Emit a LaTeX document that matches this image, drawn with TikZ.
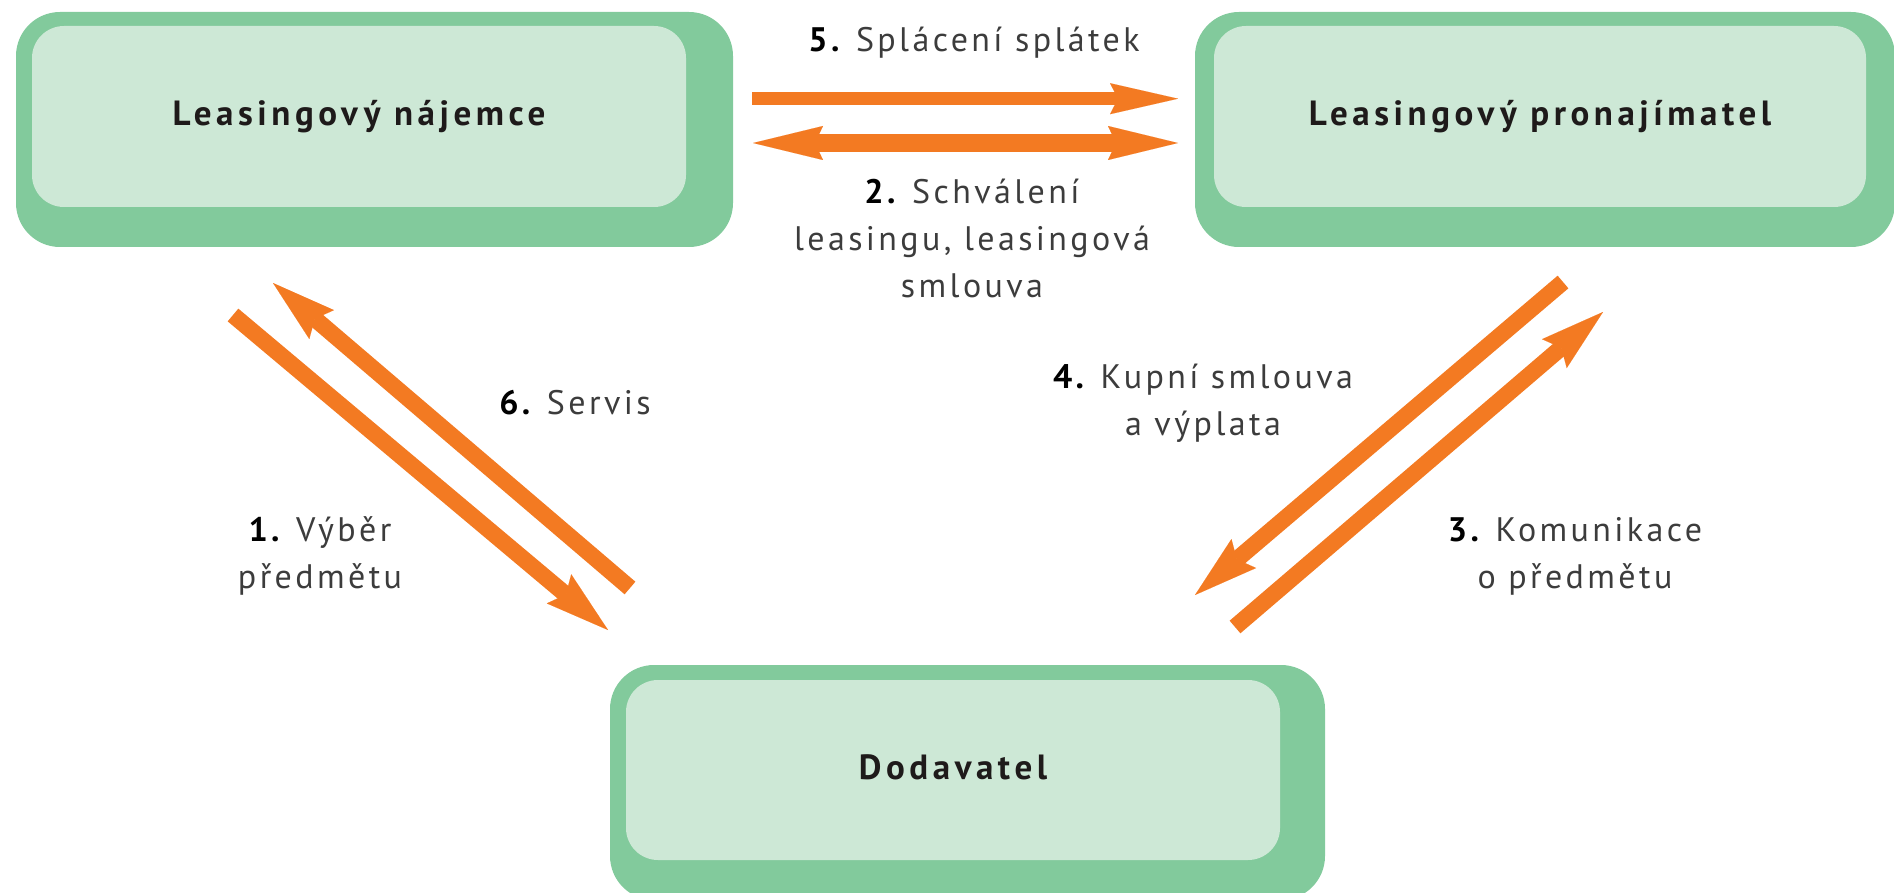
\documentclass[tikz,border=0pt]{standalone}
\usepackage{fontspec}
\setmainfont{PT Sans}
\newfontfamily\lblfont[LetterSpace=10]{PT Sans}
\newfontfamily\titlefont[LetterSpace=13]{PT Sans}
\usetikzlibrary{arrows.meta}
\definecolor{boxdark}{HTML}{82CA9C}
\definecolor{boxlight}{HTML}{CDE8D6}
\definecolor{flowcol}{HTML}{F37A22}
\definecolor{lblgray}{HTML}{3C3C3C}
\definecolor{titleblack}{HTML}{1E1A1A}
\begin{document}
\begin{tikzpicture}[x=0.5pt,y=-0.5pt,
  outerbox/.style={fill=boxdark, rounded corners=22pt, inner sep=0pt},
  innerbox/.style={fill=boxlight, rounded corners=16pt, inner sep=0pt,
    font=\titlefont\bfseries\fontsize{17.5}{21}\selectfont, text=titleblack,
    text height=13pt, text depth=4pt},
  lbl/.style={font=\lblfont\fontsize{17}{23.3}\selectfont, text=lblgray, align=center, inner sep=0pt, anchor=base},
  flow/.style={draw=flowcol, line width=8.3pt,
    -{Stealth[length=32pt,width=19pt,inset=4.5pt,line width=0.01pt]}},
  flowh/.style={draw=flowcol, line width=6.7pt,
    -{Stealth[length=34pt,width=15.5pt,inset=4pt,line width=0.01pt]}},
  flowboth/.style={draw=flowcol, line width=9pt,
    {Stealth[length=35pt,width=17pt,inset=4pt,line width=0.01pt]}-{Stealth[length=35pt,width=17pt,inset=4pt,line width=0.01pt]}}
]
\useasboundingbox (0,0) rectangle (1894,893);
\begin{scope}
\clip (0,0) rectangle (1894,893);
% boxes
\node[outerbox, minimum width=358.5pt, minimum height=117.5pt] (lesseeframe) at (374.5,129.5) {};
\node[innerbox, minimum width=327pt, minimum height=90.5pt] (lessee) at (359,116.5) {Leasingový nájemce};
\node[outerbox, minimum width=350pt, minimum height=117.5pt] (lessorframe) at (1545,129.5) {};
\node[innerbox, minimum width=326pt, minimum height=90.5pt] (lessor) at (1540,116.5) {Leasingový pronajímatel};
\node[outerbox, minimum width=357.5pt, minimum height=117.5pt] (supplierframe) at (967.5,782.5) {};
\node[innerbox, minimum width=327pt, minimum height=90pt] (supplier) at (953,770) {Dodavatel};
\end{scope}
% arrow end points
\coordinate (a5s) at (752,98.7);
\coordinate (a5e) at (1178,98.7);
\coordinate (a2s) at (753,143);
\coordinate (a2e) at (1178,143);
\coordinate (a1s) at (233,315);
\coordinate (a1e) at (608,630);
\coordinate (a6s) at (630,588);
\coordinate (a6e) at (273,283);
\coordinate (a4s) at (1563,282);
\coordinate (a4e) at (1195,595);
\coordinate (a3s) at (1235,627);
\coordinate (a3e) at (1603,312);
% arrows
\draw[flowh] (a5s) -- (a5e);
\draw[flowboth] (a2s) -- (a2e);
\draw[flow] (a1s) -- (a1e);
\draw[flow] (a6s) -- (a6e);
\draw[flow] (a4s) -- (a4e);
\draw[flow] (a3s) -- (a3e);
% labels (anchor = baseline of the last line)
\node[lbl] (l5) at (974,52) {\textbf{\color{black}5.} Splácení splátek};
\node[lbl] (l2) at (972,297) {\textbf{\color{black}2.} Schválení\\leasingu, leasingová\\smlouva};
\node[lbl] (l6) at (575,414) {\textbf{\color{black}6.} Servis};
\node[lbl] (l1) at (320,588) {\textbf{\color{black}1.} Výběr\\předmětu};
\node[lbl] (l4) at (1203,435) {\textbf{\color{black}4.} Kupní smlouva\\a výplata};
\node[lbl] (l3) at (1575,588) {\textbf{\color{black}3.} Komunikace\\o předmětu};
\end{tikzpicture}
\end{document}
